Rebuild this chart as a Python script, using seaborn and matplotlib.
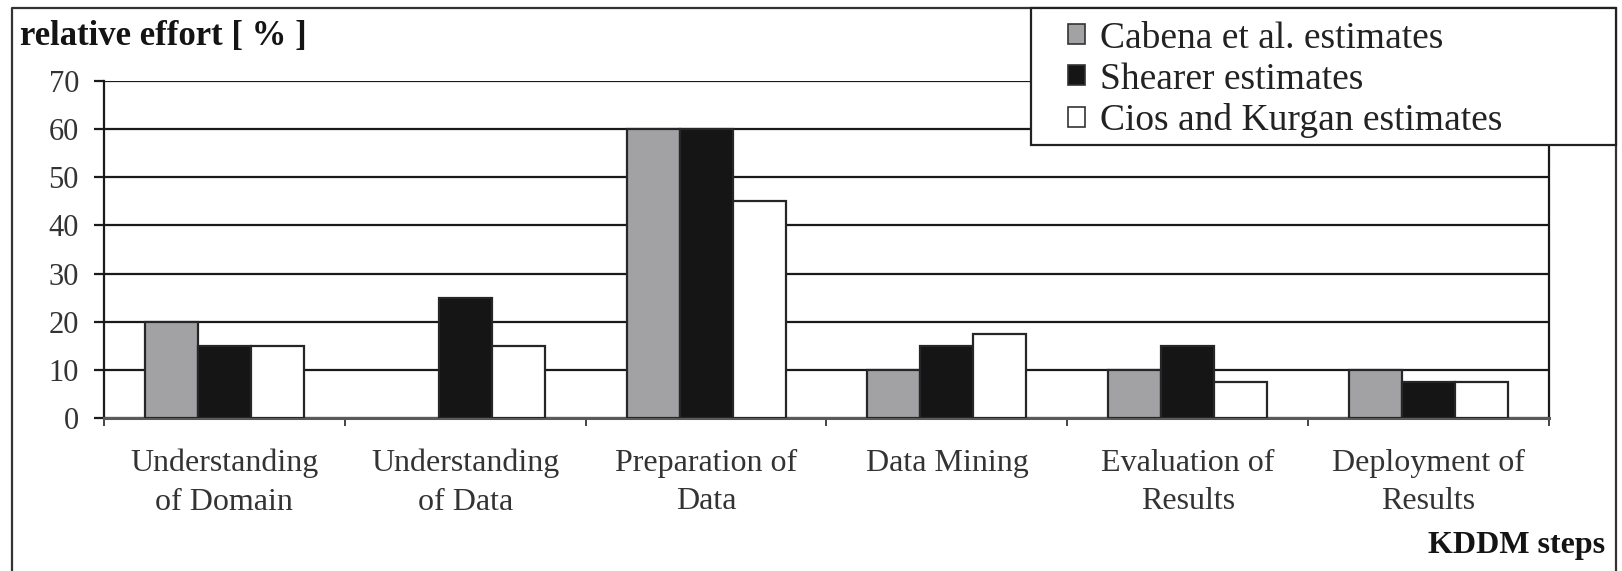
import numpy as np
import pandas as pd
import matplotlib
matplotlib.use("Agg")
import matplotlib.pyplot as plt
from matplotlib.lines import Line2D
from matplotlib.patches import Patch, Rectangle
import seaborn as sns

# KDDM process steps and relative effort estimates (%)
steps = ["Understanding\nof Domain", "Understanding\nof Data", "Preparation of\nData",
         "Data Mining", "Evaluation of\nResults", "Deployment of\nResults"]
sources = ["Cabena et al. estimates", "Shearer estimates", "Cios and Kurgan estimates"]
cabena = [20, np.nan, 60, 10, 10, 10]
shearer = [15, 25, 60, 15, 15, 7.5]
cios = [15, 15, 45, 17.5, 7.5, 7.5]
y_ticks = [0, 10, 20, 30, 40, 50, 60, 70]

df = pd.DataFrame({
    "step": steps * 3,
    "source": [sources[0]] * 6 + [sources[1]] * 6 + [sources[2]] * 6,
    "effort": cabena + shearer + cios,
})

sns.set_theme(style="white")
plt.rcParams["font.family"] = ["Liberation Serif", "DejaVu Serif"]

colors = ["#a2a2a4", "#151515", "#ffffff"]

W, H = 1622, 571
fig = plt.figure(figsize=(W / 100, H / 100), dpi=100)
fig.patch.set_facecolor("white")
ax = fig.add_axes([104 / W, 1 - 418 / H, (1549 - 104) / W, (418 - 81) / H])

sns.barplot(data=df, x="step", y="effort", hue="source", order=steps,
            hue_order=sources, palette=colors, width=0.66, gap=0,
            edgecolor="#262626", linewidth=1.6, saturation=1,
            legend=False, ax=ax, zorder=3)

ax.set_ylim(0, 70)
ax.set_xlim(-0.5, len(steps) - 0.5)
ax.set_yticks(y_ticks)
ax.yaxis.grid(True, color="#1a1a1a", linewidth=1.6, zorder=0)
ax.set_axisbelow(True)
ax.set_xlabel("")
ax.set_ylabel("")

for side in ["left", "right"]:
    ax.spines[side].set_visible(True)
    ax.spines[side].set_color("#1a1a1a")
    ax.spines[side].set_linewidth(1.6)
ax.spines["top"].set_visible(False)
ax.spines["bottom"].set_color("#5a5a5a")
ax.spines["bottom"].set_linewidth(2.2)

ax.tick_params(axis="y", direction="out", length=7, width=1.6, color="#1a1a1a",
               labelsize=22, pad=11, labelcolor="#333333", left=True)
ax.set_xticks(np.arange(len(steps)))
ax.set_xticklabels(steps, fontsize=23, color="#333333", linespacing=1.45)
ax.set_xticks(np.arange(len(steps) + 1) - 0.5, minor=True)
ax.tick_params(axis="x", which="major", length=0, pad=22)
ax.tick_params(axis="x", which="minor", direction="out", length=6, width=1.4,
               color="#444444", bottom=True)

# Axis titles
fig.text(20 / W, 1 - 37 / H, "relative effort [ % ]", fontsize=25, fontweight="bold",
         color="#141414", ha="left", va="center")
fig.text(1605 / W, 1 - 545 / H, "KDDM steps", fontsize=23, fontweight="bold",
         color="#141414", ha="right", va="center")

# Legend box in the upper right corner
fig.add_artist(Rectangle((1031 / W, 1 - 145 / H), (1616 - 1031) / W, (145 - 8) / H,
                         transform=fig.transFigure, facecolor="white",
                         edgecolor="#222222", linewidth=1.6, zorder=9))
handles = [Patch(facecolor=c, edgecolor="#333333", linewidth=1.2) for c in colors]
leg = fig.legend(handles, sources, loc="upper left",
                 bbox_to_anchor=(1068 / W, 1 - 21 / H),
                 fontsize=27, frameon=False,
                 handlelength=0.45, handleheight=0.45, handletextpad=0.4,
                 labelspacing=0.18, borderpad=0, borderaxespad=0)
leg.set_zorder(10)
for t in leg.get_texts():
    t.set_color("#222222")

# Outer frame (open at the bottom)
frame_x = [12 / W, 12 / W, 1616 / W, 1616 / W]
frame_y = [0, 1 - 8 / H, 1 - 8 / H, 0]
fig.add_artist(Line2D(frame_x, frame_y, color="#333333", linewidth=1.6,
                      transform=fig.transFigure))

fig.savefig("out.png", dpi=100, facecolor="white")
